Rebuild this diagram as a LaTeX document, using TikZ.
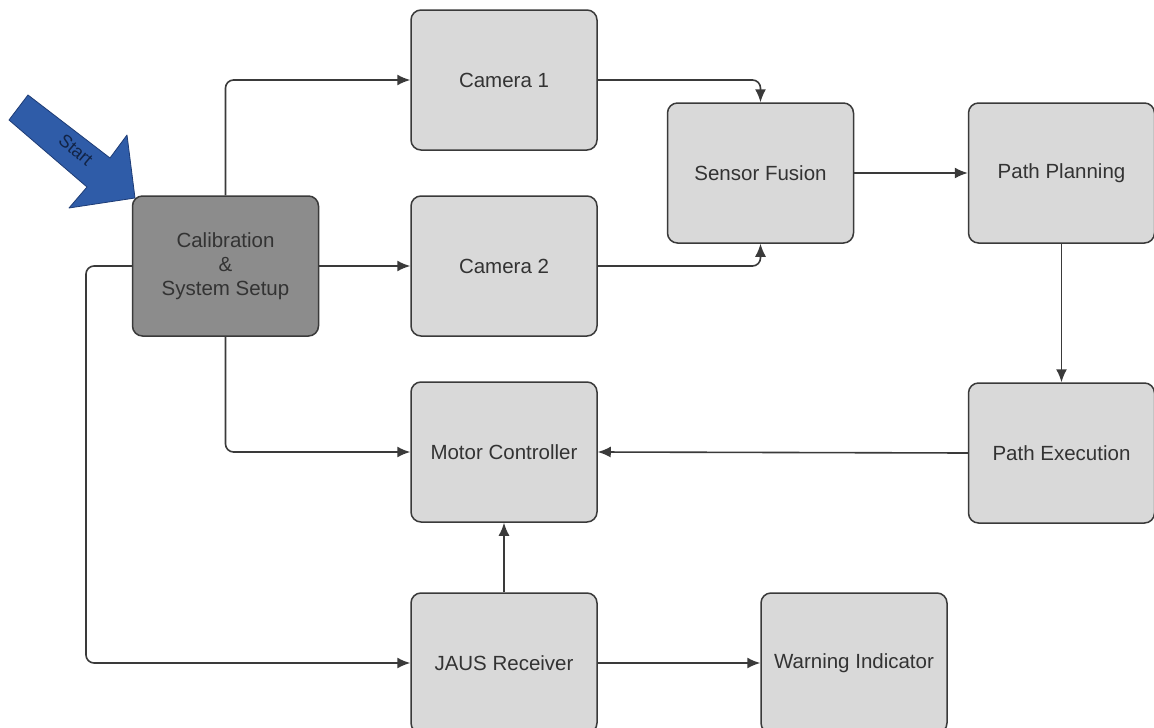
\documentclass[tikz,border=0pt]{standalone}
\usepackage{fontspec}
\setmainfont{Liberation Sans}
\usetikzlibrary{arrows.meta}
\definecolor{boxfill}{HTML}{D9D9D9}
\definecolor{calfill}{HTML}{8C8C8C}
\definecolor{boxline}{HTML}{3A3A3A}
\definecolor{startblue}{HTML}{2F5CA8}
\definecolor{startedge}{HTML}{1E3C75}
\definecolor{txt}{HTML}{333333}
\tikzset{
  block/.style={draw=boxline, line width=1.5pt, fill=boxfill, rounded corners=10pt,
    minimum width=186pt, minimum height=140pt, inner sep=0pt, align=center,
    text=txt, font=\fontsize{20.5}{24}\selectfont},
  calblock/.style={block, fill=calfill},
  link/.style={draw=boxline, line width=1.6pt, rounded corners=8pt,
    -{Latex[length=13pt,width=11pt]}},
}
\begin{document}
\begin{tikzpicture}[x=1pt,y=-1pt]
  \useasboundingbox (0,0) rectangle (1154,728);
  \clip (0,0) rectangle (1154,728);
  \fill[white] (0,0) rectangle (1154,728);

  % processing blocks
  \node[calblock] (cal) at (225.5,266) {Calibration\\\&\\System Setup};
  \node[block] (cam1) at (504,80) {Camera 1};
  \node[block] (cam2) at (504,266) {Camera 2};
  \node[block] (fus)  at (760.5,173) {Sensor Fusion};
  \node[block] (plan) at (1061.5,173) {Path Planning};
  \node[block] (exec) at (1061.5,453) {Path Execution};
  \node[block] (motor) at (504,452) {Motor Controller};
  \node[block] (jaus) at (504,663) {JAUS Receiver};
  \node[block] (warn) at (854,663) {Warning Indicator};

  % connectors
  \draw[link] (cal.north) |- (cam1.west);
  \draw[link] (cal.east) -- (cam2.west);
  \draw[link] (cal.south) |- (motor.west);
  \coordinate (loop) at (86,266);
  \draw[link] (cal.west) -- (loop) |- (jaus.west);
  \draw[link] (cam1.east) -| (fus.north);
  \draw[link] (cam2.east) -| (fus.south);
  \draw[link] (fus.east) -- (plan.west);
  \draw[link] (plan.south) -- (exec.north);
  \draw[link] (exec.west) -- (motor.east);
  \draw[link] (jaus.north) -- (motor.south);
  \draw[link] (jaus.east) -- (warn.west);

  % start arrow
  \draw[fill=startblue, draw=startedge, line width=0.8pt, line join=round]
    (9,120) -- (28,95) -- (110,158) -- (127,135) -- (135,198)
    -- (69,208) -- (87,187) -- cycle;
  \node[rotate=-40, inner sep=0pt, text=startedge!60!black, font=\fontsize{18}{20}\selectfont]
    (startlbl) at (76,150) {Start};
\end{tikzpicture}
\end{document}
